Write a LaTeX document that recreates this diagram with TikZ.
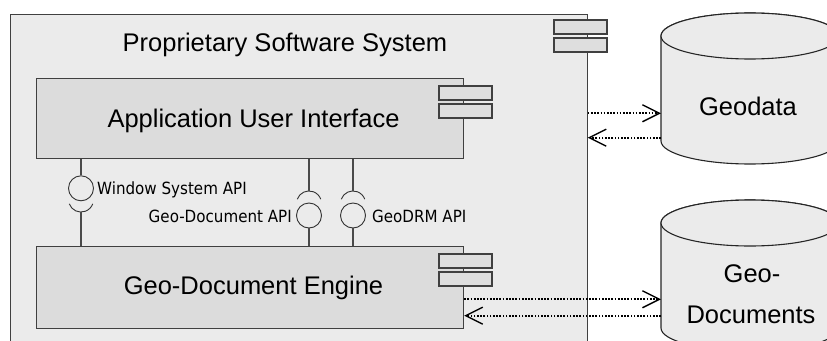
\documentclass[tikz,border=0pt]{standalone}
\usepackage{fontspec}
\setmainfont{Liberation Sans}
\newfontfamily\lblfont[FakeStretch=0.9]{DejaVu Sans}
\usetikzlibrary{arrows.meta}
\definecolor{sysfill}{HTML}{EBEBEB}
\definecolor{compfill}{HTML}{DCDCDC}
\definecolor{iconfill}{HTML}{DEDEDE}
\definecolor{edge}{HTML}{404040}
\definecolor{wire}{HTML}{4A4A4A}
\tikzset{
  compicon/.pic={
    \draw[iconbar] (0,0) rectangle (53,14);
    \draw[iconbar] (0,18) rectangle (53,32);
  }
}
\begin{document}
\begin{tikzpicture}[x=1pt,y=-1pt,
  bigtext/.style={font=\fontsize{25.5}{30}\selectfont, inner sep=0pt, anchor=base},
  apitext/.style={font=\lblfont\fontsize{16.8}{20}\selectfont, inner sep=0pt},
  sysbox/.style={draw=edge, fill=sysfill, line width=1.2pt, anchor=north west, inner sep=0pt},
  compbox/.style={draw=edge, fill=compfill, line width=1.2pt, anchor=north west, inner sep=0pt},
  iconbar/.style={draw=edge, fill=iconfill, line width=1.1pt},
  ball/.style={circle, draw=black!80, line width=0.9pt, minimum size=25pt, inner sep=0pt},
  socket/.style={draw=black!80, line width=0.9pt},
  wireline/.style={draw=wire, line width=1.3pt},
  store/.style={draw=black!85, fill=sysfill, line width=1.1pt},
  flow/.style={line width=1.8pt, dash pattern=on 1.7pt off 1.5pt,
    -{Straight Barb[length=17pt,width=17pt,line width=1.4pt]}},
]
\useasboundingbox (0,0) rectangle (827,340);
\clip (0,0) rectangle (827,340);

% enclosing system component
\node[sysbox, minimum width=577pt, minimum height=360pt] (sys) at (9.5,13.5) {};
\pic at (554,20) {compicon};
\node[bigtext] (systitle) at (285,51) {Proprietary Software System};

% inner components
\node[compbox, minimum width=427pt, minimum height=80pt] (aui) at (36,78) {};
\pic at (439,86) {compicon};
\node[bigtext] (auilabel) at (253.5,127) {Application User Interface};

\node[compbox, minimum width=427pt, minimum height=82pt] (eng) at (36,246) {};
\pic at (439,254) {compicon};
\node[bigtext] (englabel) at (253.5,294) {Geo-Document Engine};

% Window System API: provided ball on top, socket below
\node[ball] (wsball) at (81,188.3) {};
\draw[wireline] (wsball |- aui.south) -- (wsball.north);
\draw[socket] (69.25,203.8) arc[start angle=200,end angle=340,radius=12.5pt];
\coordinate (wssock) at (81,212);
\draw[wireline] (wssock) -- (wssock |- eng.north);
\node[apitext, anchor=base west] (wslabel) at (97,194) {Window System API};

% Geo-Document API: socket on top, ball below
\node[ball] (gdball) at (309,215.5) {};
\coordinate (gdsock) at (309,191);
\draw[socket] (297.25,199.2) arc[start angle=160,end angle=20,radius=12.5pt];
\draw[wireline] (gdsock |- aui.south) -- (gdsock);
\draw[wireline] (gdball.south) -- (gdball.south |- eng.north);
\node[apitext, anchor=base east] (gdlabel) at (292,222.5) {Geo-Document API};

% GeoDRM API
\node[ball] (drmball) at (353,215.5) {};
\coordinate (drmsock) at (353,191);
\draw[socket] (341.25,199.2) arc[start angle=160,end angle=20,radius=12.5pt];
\draw[wireline] (drmsock |- aui.south) -- (drmsock);
\draw[wireline] (drmball.south) -- (drmball.south |- eng.north);
\node[apitext, anchor=base west] (drmlabel) at (372,222.5) {GeoDRM API};

% data stores
\path[store] (661,36) -- (661,141) arc[start angle=180,end angle=360,x radius=89pt,y radius=23pt]
  -- (839,36) arc[start angle=0,end angle=180,x radius=89pt,y radius=23pt] -- cycle;
\draw[store] (750,36) ellipse[x radius=89pt,y radius=23pt];
\node[bigtext] (gdatalabel) at (748,115) {Geodata};

\path[store] (661,223) -- (661,328) arc[start angle=180,end angle=360,x radius=89pt,y radius=23pt]
  -- (839,223) arc[start angle=0,end angle=180,x radius=89pt,y radius=23pt] -- cycle;
\draw[store] (750,223) ellipse[x radius=89pt,y radius=23pt];
\node[bigtext] (gdocA) at (752,282) {Geo-};
\node[bigtext] (gdocB) at (751,323) {Documents};

% data flows
\coordinate (gdataIn) at (661,113.3);
\coordinate (gdataOut) at (661,137.7);
\draw[flow] (sys.east |- gdataIn) -- (gdataIn);
\draw[flow] (gdataOut) -- (sys.east |- gdataOut);

\coordinate (gdocIn) at (661,299.3);
\coordinate (gdocOut) at (661,315.7);
\draw[flow] (eng.east |- gdocIn) -- (gdocIn);
\draw[flow] (gdocOut) -- (eng.east |- gdocOut);
\end{tikzpicture}
\end{document}
